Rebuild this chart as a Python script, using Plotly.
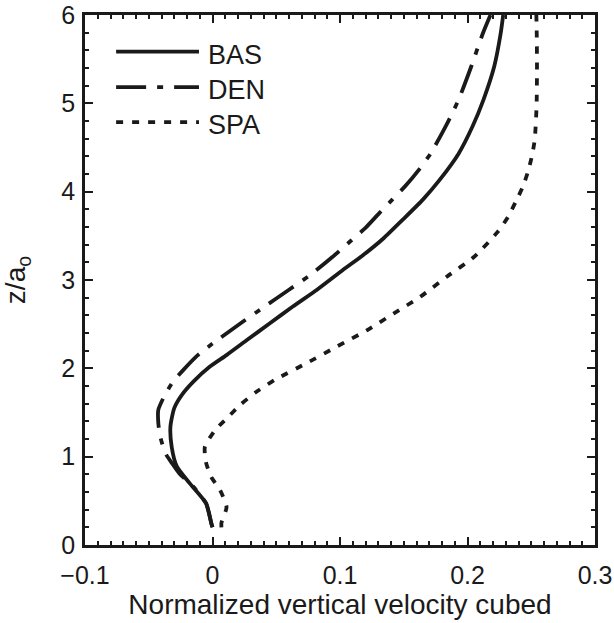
import plotly.graph_objects as go

# Vertical profiles of the normalized vertical velocity cubed
z_bas = [0.2, 0.25, 0.47, 0.7, 0.89, 1.11, 1.34, 1.55, 1.7, 1.85, 2.02, 2.15, 2.32,
         2.51, 2.7, 2.89, 3.11, 3.28, 3.47, 3.68, 3.91, 4.13, 4.43, 4.74, 5.04, 5.42,
         5.79, 6.0]
w3_bas = [0.0, -0.001, -0.005, -0.018, -0.028, -0.032, -0.033, -0.030, -0.024, -0.015,
          -0.002, 0.011, 0.027, 0.045, 0.063, 0.082, 0.102, 0.118, 0.134, 0.149,
          0.165, 0.178, 0.193, 0.204, 0.2125, 0.221, 0.226, 0.228]

z_den = [0.2, 0.25, 0.47, 0.66, 0.81, 0.93, 1.04, 1.23, 1.38, 1.53, 1.68, 1.85, 1.98,
         2.13, 2.28, 2.53, 2.69, 2.89, 3.06, 3.26, 3.45, 3.59, 3.76, 3.91, 4.06, 4.25,
         4.43, 4.77, 5.04, 5.42, 5.79, 6.0]
w3_den = [0.0, -0.001, -0.005, -0.015, -0.026, -0.032, -0.037, -0.041, -0.0425,
          -0.0425, -0.038, -0.031, -0.023, -0.013, 0.000, 0.024, 0.040, 0.060, 0.077,
          0.094, 0.109, 0.120, 0.131, 0.141, 0.151, 0.162, 0.171, 0.184, 0.193, 0.203,
          0.212, 0.218]

z_spa = [0.2, 0.25, 0.43, 0.62, 0.77, 0.93, 1.11, 1.3, 1.43, 1.59, 1.74, 1.87, 2.06,
         2.25, 2.43, 2.62, 2.81, 3.04, 3.26, 3.55, 3.72, 3.89, 4.06, 4.23, 4.42, 4.6,
         4.98, 5.42, 5.79, 6.0]
w3_spa = [0.007, 0.007, 0.011, 0.006, -0.001, -0.005, -0.006, 0.002, 0.011, 0.022,
          0.035, 0.049, 0.074, 0.098, 0.121, 0.142, 0.163, 0.184, 0.205, 0.224,
          0.232, 0.238, 0.2435, 0.2475, 0.2508, 0.2528, 0.2542, 0.2545, 0.2543, 0.254]

series_names = ["BAS", "DEN", "SPA"]
series_dash = ["solid", "30px,11px,6px,11px", "7px,9px"]

x_range = [-0.1, 0.3]
y_range = [0, 6]
x_tickvals = [-0.1, 0, 0.1, 0.2, 0.3]
x_ticktext = ["\u22120.1", "0", "0.1", "0.2", "0.3"]

FONT = "Liberation Sans, Arial, Helvetica, sans-serif"
INK = "#1a1a1a"
LW = 3.8

fig = go.Figure()
for name, xs, zs, dash in zip(series_names, [w3_bas, w3_den, w3_spa],
                              [z_bas, z_den, z_spa], series_dash):
    fig.add_trace(go.Scatter(x=xs, y=zs, mode="lines", name=name,
                             line=dict(color=INK, width=LW, dash=dash,
                                       shape="spline", smoothing=0.6),
                             showlegend=False))

# Legend drawn as sample lines plus labels in the upper-left corner
leg_x0, leg_x1, leg_tx = 0.061, 0.2235, 0.238
leg_y = [0.931, 0.864, 0.798]
for name, dash, ly in zip(series_names, series_dash, leg_y):
    fig.add_shape(type="line", xref="paper", yref="paper",
                  x0=leg_x0, x1=leg_x1, y0=ly, y1=ly,
                  line=dict(color=INK, width=LW, dash=dash))
    fig.add_annotation(xref="paper", yref="paper", x=leg_tx, y=ly - 0.006,
                       text=name, showarrow=False, xanchor="left",
                       yanchor="middle",
                       font=dict(family=FONT, size=27, color=INK))

axis_common = dict(
    showline=True, linecolor=INK, linewidth=2.5, mirror="allticks",
    ticks="inside", ticklen=8, tickwidth=2, tickcolor=INK,
    showgrid=False, zeroline=False, automargin=False,
    tickfont=dict(family=FONT, size=25, color=INK),
)

fig.update_xaxes(range=x_range, tickvals=x_tickvals, ticktext=x_ticktext,
                 ticklabelstandoff=6,
                 minor=dict(dtick=0.01, ticks="inside", ticklen=4, tickwidth=1.5,
                            tickcolor=INK),
                 title=dict(text="Normalized vertical velocity cubed",
                            font=dict(family=FONT, size=28, color=INK), standoff=5),
                 **axis_common)
fig.update_yaxes(range=y_range, dtick=1, ticklabelstandoff=2,
                 minor=dict(dtick=0.2, ticks="inside", ticklen=4, tickwidth=1.5,
                            tickcolor=INK),
                 title=dict(text="z/a<sub>o</sub>",
                            font=dict(family=FONT, size=28, color=INK), standoff=28),
                 **axis_common)

fig.update_layout(width=614, height=623,
                  margin=dict(l=85, r=19, t=15, b=78),
                  paper_bgcolor="white", plot_bgcolor="white")

fig.write_html("out.html")
